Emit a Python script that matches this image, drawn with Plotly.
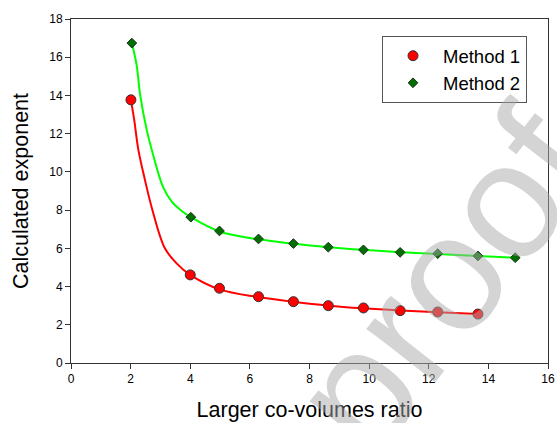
import plotly.graph_objects as go

# Marker data
m1_x = [2.01, 4.0, 4.98, 6.29, 7.46, 8.63, 9.81, 11.04, 12.3, 13.65]
m1_y = [13.77, 4.61, 3.91, 3.47, 3.21, 3.0, 2.88, 2.74, 2.67, 2.56]
m2_x = [2.04, 4.02, 4.98, 6.29, 7.46, 8.63, 9.81, 11.04, 12.3, 13.65, 14.9]
m2_y = [16.74, 7.63, 6.91, 6.49, 6.25, 6.06, 5.92, 5.79, 5.72, 5.60, 5.51]

# Fitted curves
fit1_x = [2.01, 2.12, 2.26, 2.48, 2.73, 3.15, 3.55, 4.0, 4.98, 6.29, 7.46, 8.63, 9.81, 11.04, 12.3, 13.65]
fit1_y = [13.77, 12.72, 11.15, 9.58, 8.01, 6.0, 5.2, 4.61, 3.85, 3.45, 3.2, 3.0, 2.86, 2.75, 2.66, 2.56]
fit2_x = [2.04, 2.20, 2.32, 2.54, 2.71, 3.09, 3.4, 3.76, 4.02, 4.98, 6.29, 7.46, 8.63, 9.81, 11.04, 12.3, 13.65, 14.9]
fit2_y = [16.74, 15.60, 14.03, 12.2, 11.15, 9.2, 8.4, 7.9, 7.63, 6.88, 6.47, 6.24, 6.06, 5.92, 5.8, 5.7, 5.6, 5.51]

x_ticks = [0, 2, 4, 6, 8, 10, 12, 14, 16]
y_ticks = [0, 2, 4, 6, 8, 10, 12, 14, 16, 18]

FONT = "Liberation Sans, Arial, sans-serif"

fig = go.Figure()
fig.add_trace(go.Scatter(x=fit1_x, y=fit1_y, mode="lines", line=dict(color="#ff0000", width=2, shape="spline", smoothing=1.0),
                         showlegend=False, hoverinfo="skip"))
fig.add_trace(go.Scatter(x=fit2_x, y=fit2_y, mode="lines", line=dict(color="#00ff00", width=2, shape="spline", smoothing=1.0),
                         showlegend=False, hoverinfo="skip"))
fig.add_trace(go.Scatter(x=m1_x, y=m1_y, mode="markers", name="Method 1",
                         marker=dict(symbol="circle", size=10, color="#ff0000", line=dict(color="#333333", width=1))))
fig.add_trace(go.Scatter(x=m2_x, y=m2_y, mode="markers", name="Method 2",
                         marker=dict(symbol="diamond", size=7.5, color="#006e00", line=dict(color="#1a331a", width=1))))

axis_common = dict(showgrid=False, zeroline=False, showline=True, linecolor="#333333", linewidth=1,
                   mirror=True, ticks="outside", ticklen=5, tickcolor="#333333", automargin=False,
                   tickfont=dict(family=FONT, size=12, color="#000000"))

fig.update_layout(
    width=557, height=423,
    margin=dict(l=71, r=9, t=19, b=60),
    paper_bgcolor="white", plot_bgcolor="white",
    font=dict(family=FONT, color="#000000"),
    xaxis=dict(range=[0, 16], tickvals=x_ticks, **axis_common,
               title=dict(text="Larger co-volumes ratio", font=dict(family=FONT, size=21.5), standoff=16)),
    yaxis=dict(range=[0, 18], tickvals=y_ticks, **axis_common,
               title=dict(text="Calculated exponent", font=dict(family=FONT, size=21.5), standoff=14)),
    legend=dict(x=0.652, y=0.95, xanchor="left", yanchor="top", bgcolor="white",
                bordercolor="#555555", borderwidth=1, font=dict(family=FONT, size=18.5),
                itemwidth=50, entrywidth=148, entrywidthmode="pixels", tracegroupgap=0),
    annotations=[dict(text="proof", xref="paper", yref="paper", x=0.78, y=0.24,
                      xanchor="center", yanchor="middle", showarrow=False, textangle=-52,
                      font=dict(family=FONT, size=165, color="rgba(170,170,170,0.5)"))],
)

fig.write_html("out.html")
